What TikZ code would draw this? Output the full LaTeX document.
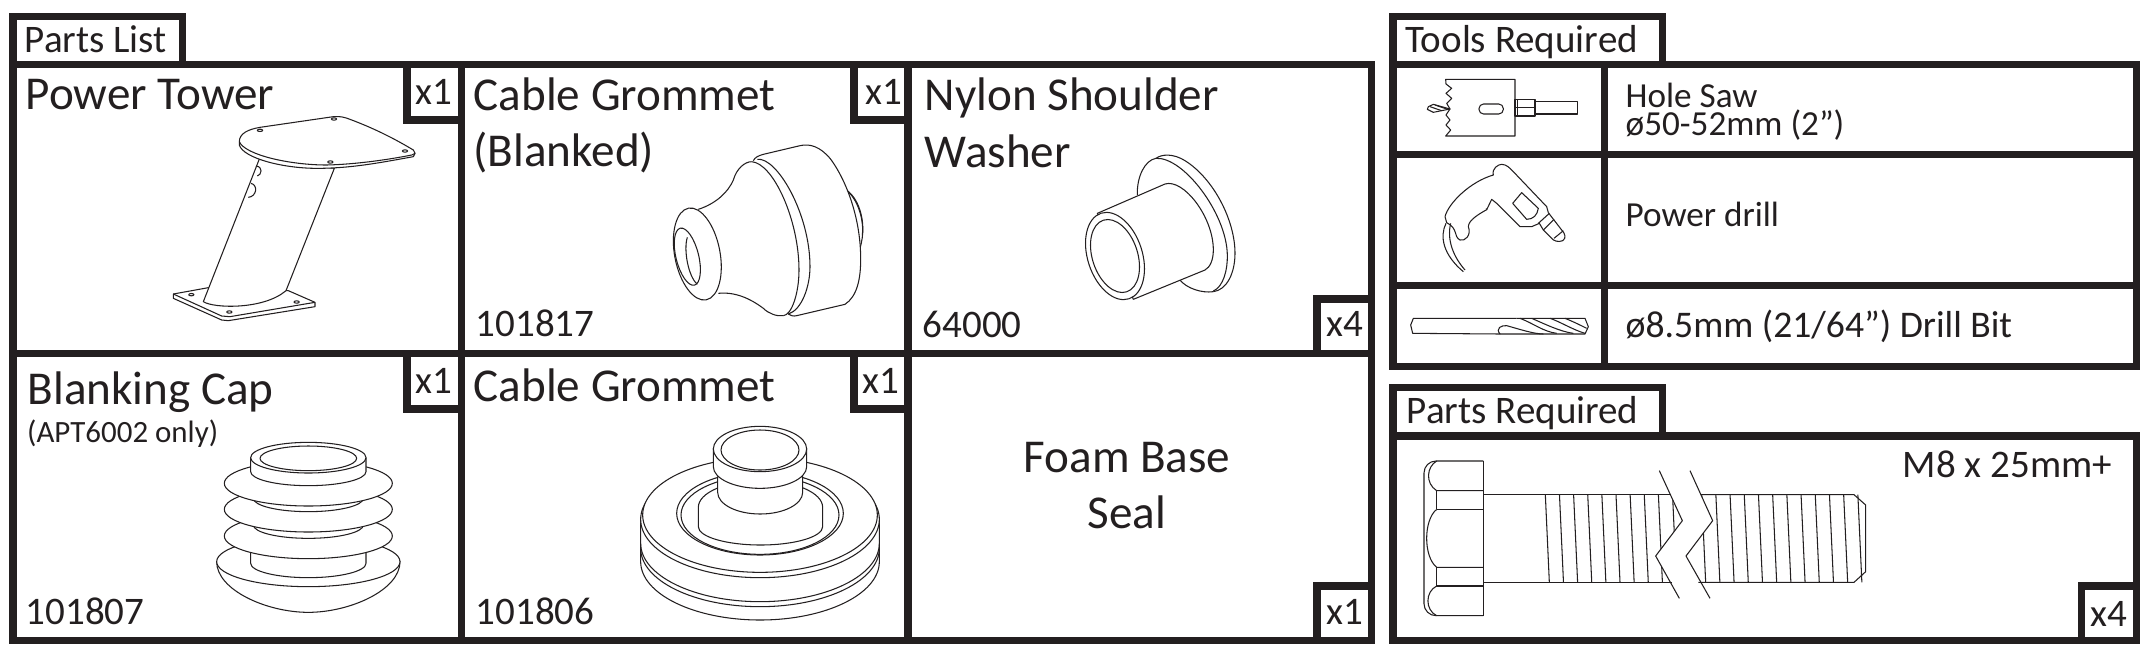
\documentclass[tikz,border=0pt]{standalone}
\usepackage{fontspec}
\setmainfont{Carlito}
\definecolor{partblack}{HTML}{231F20}
\tikzset{
    frameline/.style={line width=2pt,draw=partblack},
    partline/.style={line width=.3pt,draw=partblack,line join=round},
    partfill/.style={partline,fill=white},
    lab/.style={inner sep=0pt,anchor=base west,text=partblack},
    bigtext/.style={lab,font=\fontsize{13.4}{15}\selectfont},
    midtext/.style={lab,font=\fontsize{11.1}{13}\selectfont},
    bittext/.style={lab,font=\fontsize{10.7}{13}\selectfont},
    smalltext/.style={lab,font=\fontsize{10}{12}\selectfont},
    tinytext/.style={lab,font=\fontsize{8.8}{10}\selectfont},
}
\begin{document}
\begin{tikzpicture}[x=0.01cm,y=-0.01cm]
    \useasboundingbox (0,0) rectangle (2154,654);
    \fill[white] (0,0) rectangle (2154,654);
    % parts list frame
    \draw[frameline] (13,64.5) rectangle (1371.5,640.5);
    \draw[frameline] (13,64.5) -- (13,16.5) -- (182.5,16.5) -- (182.5,64.5);
    \draw[frameline] (461.5,64.5) -- (461.5,640.5);
    \draw[frameline] (908,64.5) -- (908,640.5);
    \draw[frameline] (13,353.5) -- (1371.5,353.5);
    \draw[frameline] (407,64.5) -- (407,120) -- (461.5,120);
    \draw[frameline] (854,64.5) -- (854,120) -- (908,120);
    \draw[frameline] (407,353.5) -- (407,409) -- (461.5,409);
    \draw[frameline] (854,353.5) -- (854,409) -- (908,409);
    \draw[frameline] (1317,353.5) -- (1317,299) -- (1371.5,299);
    \draw[frameline] (1317,640.5) -- (1317,586) -- (1371.5,586);
    % tools frame
    \draw[frameline] (1393,64.5) rectangle (2136.5,366.5);
    \draw[frameline] (1393,64.5) -- (1393,16.5) -- (1662,16.5) -- (1662,64.5);
    \draw[frameline] (1604,64.5) -- (1604,366.5);
    \draw[frameline] (1393,154.5) -- (2136.5,154.5);
    \draw[frameline] (1393,285.5) -- (2136.5,285.5);
    % parts required frame
    \draw[frameline] (1393,436) rectangle (2136.5,640.5);
    \draw[frameline] (1393,436) -- (1393,387.5) -- (1662,387.5) -- (1662,436);
    \draw[frameline] (2081,640.5) -- (2081,586) -- (2136.5,586);

    % labels
    \node[midtext] (partslist) at (24,52) {Parts List};
    \node[bigtext] (tower) at (25,109) {Power Tower};
    \node[bigtext] (blanked) at (473,110.5) {Cable Grommet};
    \node[bigtext] (blankedb) at (473,166) {(Blanked)};
    \node[bigtext] (nylon) at (924,110.5) {Nylon Shoulder};
    \node[bigtext] (washer) at (924,167) {Washer};
    \node[bigtext] (cap) at (27,404) {Blanking Cap};
    \node[tinytext] (apt) at (26.5,442) {(APT6002 only)};
    \node[bigtext] (grommet) at (473,401) {Cable Grommet};
    \node[bigtext,anchor=base] (foam) at (1127,472) {Foam Base};
    \node[bigtext,anchor=base] (seal) at (1127,528) {Seal};
    \node[midtext] (noa) at (475,336) {101817};
    \node[midtext] (nob) at (922,337) {64000};
    \node[midtext] (noc) at (25,624) {101807};
    \node[midtext] (nod) at (475,624) {101806};
    \node[midtext] (qa) at (415,104) {x1};
    \node[midtext] (qb) at (865,104) {x1};
    \node[midtext] (qc) at (415,393) {x1};
    \node[midtext] (qd) at (862,393) {x1};
    \node[midtext] (qe) at (1326,336) {x4};
    \node[midtext] (qf) at (1326,624.5) {x1};
    \node[midtext] (tools) at (1404.6,52) {Tools Required};
    \node[smalltext] (saw) at (1625,107.6) {Hole Saw};
    \node[smalltext] (sawb) at (1625,135.6) {ø50-52mm (2”)};
    \node[smalltext] (drill) at (1625,226.5) {Power drill};
    \node[bittext] (bit) at (1625,337) {ø8.5mm (21/64”) Drill Bit};
    \node[midtext] (req) at (1406,423.5) {Parts Required};
    \node[midtext] (size) at (1902,477.7) {M8 x 25mm+};
    \node[midtext] (qg) at (2090,626) {x4};

    % power tower
    \begin{scope}[shift={(150,100)},scale=1/3]
        \draw[partfill] (70,582) -- (175,563) -- (415,572) -- (495,607) -- (495,620) -- (235,662) -- (215,660) -- (70,595) -- cycle;
        \draw[partline] (70,582) -- (215,648) -- (240,650) -- (495,607);
        \draw[partfill] (328,177) -- (160,605) .. controls (190,625) and (340,630) .. (408,572) -- (553,205) -- cycle;
        \draw[partline] (318,198) .. controls (340,200) and (335,225) .. (322,228);
        \draw[partline] (303,250) .. controls (325,255) and (320,290) .. (295,292);
        \draw[partfill] (268,125) .. controls (268,100) and (295,88) .. (330,82) -- (550,50) .. controls (570,48) and (585,52) .. (600,58) .. controls (680,88) and (740,120) .. (790,150) .. controls (797,155) and (797,165) .. (790,170) .. controls (680,190) and (600,205) .. (500,205) .. controls (400,205) and (280,175) .. (268,135) -- cycle;
        \draw[partline] (268,125) .. controls (285,165) and (420,195) .. (530,195) .. controls (620,193) and (720,178) .. (785,165) -- (795,160);
        \foreach \hx/\hy in {330/91,552/57,765/153,541/186,124/584,440/606,238/636}
            \draw[partline] (\hx,\hy) ellipse [x radius=8,y radius=3.5];
    \end{scope}

    % blanking cap
    \begin{scope}[shift={(190,430)},scale=1/3]
        \draw[partfill] (80,395) .. controls (80,480) and (230,547) .. (355,547) .. controls (480,547) and (630,480) .. (630,395) -- cycle;
        \draw[partfill] (355,395) ellipse [x radius=275,y radius=75];
        \draw[partfill] (182,367) -- (182,400) arc[start angle=180,end angle=0,x radius=173,y radius=43] -- (528,367) -- cycle;
        \draw[partfill] (355,318) ellipse [x radius=252,y radius=68];
        \draw[partfill] (355,285) ellipse [x radius=165,y radius=40];
        \draw[partfill] (355,238) ellipse [x radius=252,y radius=68];
        \draw[partfill] (355,205) ellipse [x radius=165,y radius=40];
        \draw[partfill] (355,160) ellipse [x radius=252,y radius=68];
        \draw[partfill] (182,83) -- (182,125) arc[start angle=180,end angle=0,x radius=173,y radius=42] -- (528,83) -- cycle;
        \draw[partfill] (355,83) ellipse [x radius=173,y radius=46];
        \draw[partline] (355,85) ellipse [x radius=145,y radius=37];
    \end{scope}

    % cable grommet
    \begin{scope}[shift={(620,420)},scale=1/3]
        \draw[partfill] (62,290) -- (62,425) arc[start angle=180,end angle=0,x radius=358,y radius=175] -- (778,290);
        \draw[partline] (62,385) arc[start angle=180,end angle=0,x radius=358,y radius=175];
        \draw[partline] (62,370) arc[start angle=180,end angle=0,x radius=358,y radius=175];
        \draw[partfill] (420,298) ellipse [x radius=358,y radius=175];
        \draw[partfill] (420,285) ellipse [x radius=352,y radius=172];
        \draw[partfill] (420,280) ellipse [x radius=250,y radius=125];
        \draw[partline] (420,285) ellipse [x radius=237,y radius=118];
        \draw[partfill] (235,262) -- (235,320) arc[start angle=180,end angle=0,x radius=186.5,y radius=55] -- (608,262) arc[start angle=0,end angle=-180,x radius=186.5,y radius=80];
        \draw[partfill] (293,170) -- (293,217) arc[start angle=180,end angle=0,x radius=127.5,y radius=65] -- (548,170) -- cycle;
        \draw[partfill] (280,85) -- (280,140) arc[start angle=180,end angle=0,x radius=140,y radius=65] -- (560,85) -- cycle;
        \draw[partfill] (420,87) ellipse [x radius=140,y radius=68];
        \draw[partline] (420,90) ellipse [x radius=117,y radius=60];
    \end{scope}

    % blanked grommet
    \begin{scope}[shift={(660,120)},scale=1/3]
        \draw[partline] (555,208) .. controls (590,225) and (625,300) .. (600,385);
        \draw[partline] (565,215) .. controls (595,245) and (612,300) .. (607,345);
        \draw[partfill] (280,122) .. controls (285,112) and (295,107) .. (310,103) -- (420,77) .. controls (450,70) and (480,80) .. (510,115) .. controls (545,160) and (600,270) .. (602,410) .. controls (603,480) and (590,530) .. (555,553) -- (410,587) .. controls (400,590) and (390,586) .. (385,582);
        \draw[partline] (292,118) .. controls (350,110) and (450,280) .. (450,440) .. controls (450,500) and (425,570) .. (385,582);
        \draw[partline] (275,125) .. controls (340,130) and (417,300) .. (417,450) .. controls (417,520) and (395,585) .. (370,587);
        \draw[partline] (115,268) .. controls (170,250) and (205,215) .. (220,180) .. controls (230,145) and (255,125) .. (275,125);
        \draw[partline] (175,520) .. controls (225,515) and (270,535) .. (310,565) .. controls (325,580) and (350,590) .. (370,587);
        \draw[partfill,rotate around={11:(112,402)}] (112,402) ellipse [x radius=68,y radius=140];
        \draw[partline,rotate around={14:(82,410)}] (82,410) ellipse [x radius=34,y radius=88];
        \draw[partline] (82,352) .. controls (70,390) and (85,470) .. (112,493);
    \end{scope}

    % washer
    \begin{scope}[shift={(1070,130)},scale=1/3]
        \draw[partline] (202,195) .. controls (200,140) and (225,90) .. (258,85);
        \draw[partline] (330,450) .. controls (350,475) and (395,490) .. (430,485);
        \draw[partline] (258,85) .. controls (275,72) and (310,70) .. (345,92) .. controls (430,145) and (495,270) .. (495,370) .. controls (495,430) and (470,480) .. (430,485);
        \draw[partline] (258,85) .. controls (340,80) and (470,250) .. (472,375) .. controls (473,420) and (460,470) .. (430,483);
        \draw[partfill] (82,250) -- (285,162) .. controls (340,145) and (430,260) .. (430,360) .. controls (430,390) and (420,412) .. (405,420) -- (190,508) -- cycle;
        \draw[partfill,rotate around={18:(135,378)}] (135,378) ellipse [x radius=82,y radius=135];
        \draw[partline,rotate around={18:(135,378)}] (135,378) ellipse [x radius=68,y radius=113];
    \end{scope}

    % hole saw, power drill and drill bit
    \begin{scope}[shift={(1400,60)},scale=1/3]
        \draw[partline] (137,58) -- (345,58) -- (345,228) -- (137,228) -- (152,210) -- (138,195) -- (150,180) -- (138,165) -- (150,147) -- (140,130) -- (155,115) -- (138,100) -- (155,85) -- (138,72) -- cycle;
        \draw[partline,rounded corners=1.3pt] (237,132) rectangle (310,162);
        \draw[partline] (345,118) rectangle (405,168);
        \draw[partline] (352,118) -- (352,168) (345,143) -- (405,143);
        \draw[partline] (405,125) -- (533,125) -- (533,162) -- (405,162);
        \draw[partline] (150,147) -- (100,133) -- (85,140) -- (82,148) -- (100,157) -- cycle;
        \draw[partline] (90,140) -- (125,152) (105,135) -- (140,147);
        % drill
        \draw[partline] (135,470) .. controls (145,430) and (210,365) .. (280,345) .. controls (275,325) and (295,313) .. (305,313) .. controls (320,313) and (330,325) .. (340,335) -- (440,440) -- (445,458);
        \draw[partline] (445,458) -- (485,510) .. controls (495,520) and (500,535) .. (488,542) .. controls (475,548) and (460,542) .. (455,535) -- (430,510) -- (418,490) -- (395,500) -- (360,500) -- (290,430) -- (275,418) -- (262,445) -- (258,448);
        \draw[partline] (262,448) .. controls (240,460) and (205,480) .. (205,500) .. controls (215,525) and (195,545) .. (180,540) .. controls (160,530) and (175,505) .. (140,488) -- (135,470);
        \draw[partline] (415,490) -- (448,460) (430,510) -- (462,478) (462,535) -- (490,512);
        \draw[partline] (365,398) -- (338,430) -- (380,478) .. controls (400,478) and (412,465) .. (415,445) -- cycle;
        \draw[partline] (138,490) .. controls (118,530) and (130,585) .. (190,635);
        \draw[partline] (152,490) .. controls (140,540) and (160,590) .. (195,630);
        % bit
        \draw[partline] (350,775) -- (40,775) -- (32,795) -- (38,820) -- (300,822);
        \draw[partline] (350,775) -- (555,775) -- (565,800) -- (555,822) -- (300,822);
        \draw[partline] (300,822) .. controls (285,805) and (305,795) .. (320,797) .. controls (350,805) and (400,822) .. (430,822);
        \draw[partline] (360,775) .. controls (400,790) and (430,815) .. (470,820);
        \draw[partline] (395,775) .. controls (430,790) and (480,815) .. (520,820);
        \draw[partline] (450,775) .. controls (480,785) and (520,810) .. (555,820);
        \draw[partline] (495,775) .. controls (520,785) and (540,795) .. (560,805);
    \end{scope}

    % bolt
    \begin{scope}[shift={(1410,450)},scale=1/3]
        \draw[partline,rounded corners=3.4pt] (220,33) -- (42,33) -- (42,497) -- (220,497);
        \draw[partline] (220,33) -- (220,497);
        \draw[partline] (80,33) .. controls (50,50) and (45,100) .. (80,122) -- (220,122);
        \draw[partline] (80,122) -- (80,178) (220,178) -- (80,178);
        \draw[partline] (80,178) .. controls (40,210) and (40,320) .. (80,352) -- (220,352);
        \draw[partline] (80,352) -- (80,408) -- (220,408);
        \draw[partline] (80,408) .. controls (45,425) and (45,480) .. (80,497);
        \draw[partline] (220,134) -- (781,134) (220,397) -- (787,397);
        \draw[partline] (873,134) -- (1332,134) -- (1367,165) -- (1367,365) -- (1332,397) -- (865,397);
        \draw[partline] (748,62) -- (817,212) -- (737,318) -- (808,445);
        \draw[partline] (840,62) -- (908,212) -- (828,318) -- (900,445);
        \begin{scope}
            \clip (390,134) -- (781,134) -- (817,212) -- (737,318) -- (783,397) -- (390,397) -- cycle;
            \foreach \tx in {0,...,9}
                \draw[partline] ({406+42.4*\tx},134) -- ({418+42.4*\tx},397);
        \end{scope}
        \begin{scope}
            \clip (873,134) -- (1380,134) -- (1380,397) -- (875,397) -- (828,318) -- (908,212) -- cycle;
            \foreach \tx in {0,...,11}
                \draw[partline] ({875+42.6*\tx},134) -- ({887+42.6*\tx},397);
        \end{scope}
    \end{scope}
\end{tikzpicture}
\end{document}
